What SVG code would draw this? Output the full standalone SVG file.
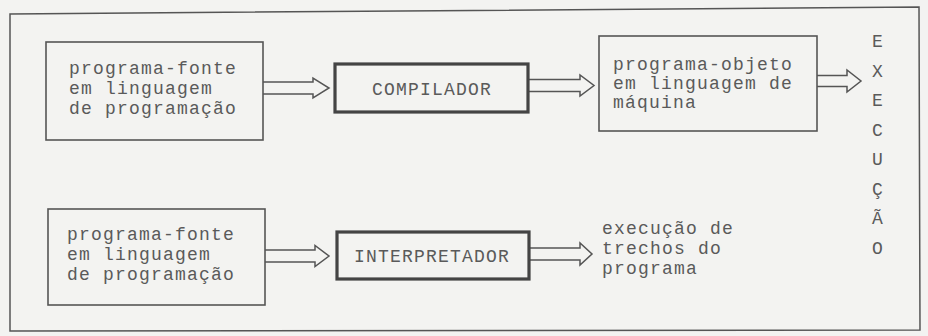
<svg xmlns="http://www.w3.org/2000/svg" width="928" height="336" viewBox="0 0 928 336">
<style>
.bg{fill:#f3f3f1}
.frame{fill:none;stroke:#555;stroke-width:1.5}
.box{fill:none;stroke:#555;stroke-width:1.6}
.tbox{fill:none;stroke:#444;stroke-width:3.2}
.arr{fill:none;stroke:#555;stroke-width:1.5;stroke-linejoin:miter}
text{font-family:"Liberation Mono","Courier New",monospace;font-size:18px;letter-spacing:1.2px;fill:#5a5a5a}
.mid{text-anchor:middle}
</style>
<rect class="bg" x="0" y="0" width="928" height="336"/>
<polygon class="frame" points="10,14 919,7 920,330 10,331"/>
<g id="connectors">
<path class="arr" d="M263,82 H313 V78 L329,88 L313,98 V94 H263"/>
<path class="arr" d="M528,79.5 H580 V75 L594,85.5 L580,96 V91.5 H528"/>
<path class="arr" d="M817,75.5 H847 V70 L861,81 L847,92 V86.5 H817"/>
<path class="arr" d="M265,250 H315 V245.5 L329,256 L315,266.5 V262 H265"/>
<path class="arr" d="M529,248 H580 V243 L592,254 L580,265 V260 H529"/>
</g>
<g id="fonte1">
<rect class="box" x="46" y="42" width="217" height="98"/>
<text x="69" y="74">programa-fonte</text>
<text x="69" y="94">em linguagem</text>
<text x="69" y="114">de programação</text>
</g>
<g id="compilador">
<rect class="tbox" x="335" y="64" width="193" height="48"/>
<text class="mid" x="432" y="95">COMPILADOR</text>
</g>
<g id="objeto">
<rect class="box" x="599" y="36" width="218" height="95"/>
<text x="613" y="70">programa-objeto</text>
<text x="613" y="89">em linguagem de</text>
<text x="613" y="108">máquina</text>
</g>
<g id="execucao-vertical">
<text class="mid" x="878" y="47">E</text>
<text class="mid" x="878" y="76.5">X</text>
<text class="mid" x="878" y="106">E</text>
<text class="mid" x="878" y="135.5">C</text>
<text class="mid" x="878" y="165">U</text>
<text class="mid" x="878" y="194.5">Ç</text>
<text class="mid" x="878" y="224">Ã</text>
<text class="mid" x="878" y="253.5">O</text>
</g>
<g id="fonte2">
<rect class="box" x="48" y="209" width="217" height="96"/>
<text x="67" y="240">programa-fonte</text>
<text x="67" y="260">em linguagem</text>
<text x="67" y="280">de programação</text>
</g>
<g id="interpretador">
<rect class="tbox" x="337" y="232" width="192" height="47"/>
<text class="mid" x="432" y="262">INTERPRETADOR</text>
</g>
<g id="trechos">
<text x="602" y="234">execução de</text>
<text x="602" y="254">trechos do</text>
<text x="602" y="274">programa</text>
</g>
</svg>
